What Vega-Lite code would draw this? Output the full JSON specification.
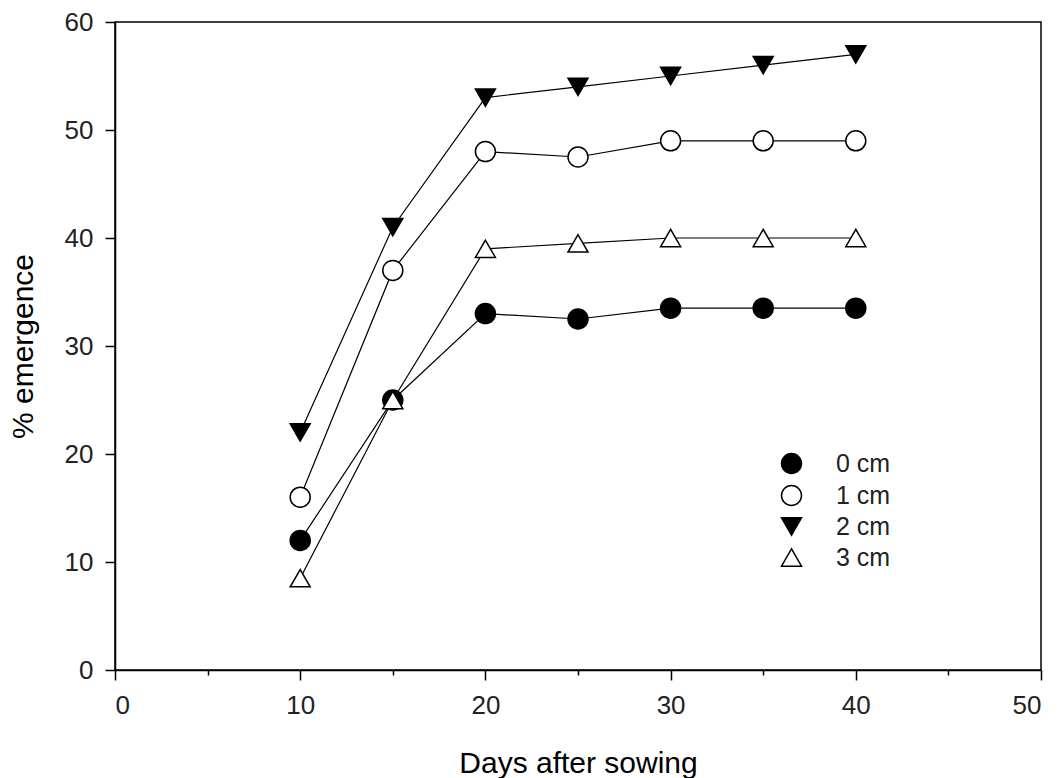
{
  "$schema": "https://vega.github.io/schema/vega-lite/v6.json",
  "width": 926,
  "height": 648,
  "autosize": {"type": "none"},
  "padding": {"left": 115, "top": 22, "right": 18, "bottom": 108},
  "background": "white",
  "config": {
    "view": {"stroke": "black", "strokeWidth": 1.5},
    "font": "Liberation Sans",
    "axis": {
      "grid": false,
      "domainColor": "black",
      "domainWidth": 1.5,
      "tickColor": "black",
      "tickWidth": 1.5,
      "tickSize": 10,
      "labelFont": "Liberation Sans",
      "labelFontSize": 26,
      "labelColor": "#222",
      "titleFont": "Liberation Sans",
      "titleFontSize": 30,
      "titleFontWeight": "normal",
      "titleColor": "black"
    },
    "legend": {
      "labelFont": "Liberation Sans",
      "labelFontSize": 25,
      "labelColor": "#222"
    }
  },
  "data": {
    "values": [
      {"day": 10, "depth": "0 cm", "pct": 12},
      {"day": 15, "depth": "0 cm", "pct": 25},
      {"day": 20, "depth": "0 cm", "pct": 33},
      {"day": 25, "depth": "0 cm", "pct": 32.5},
      {"day": 30, "depth": "0 cm", "pct": 33.5},
      {"day": 35, "depth": "0 cm", "pct": 33.5},
      {"day": 40, "depth": "0 cm", "pct": 33.5},
      {"day": 10, "depth": "1 cm", "pct": 16},
      {"day": 15, "depth": "1 cm", "pct": 37},
      {"day": 20, "depth": "1 cm", "pct": 48},
      {"day": 25, "depth": "1 cm", "pct": 47.5},
      {"day": 30, "depth": "1 cm", "pct": 49},
      {"day": 35, "depth": "1 cm", "pct": 49},
      {"day": 40, "depth": "1 cm", "pct": 49},
      {"day": 10, "depth": "2 cm", "pct": 22},
      {"day": 15, "depth": "2 cm", "pct": 41},
      {"day": 20, "depth": "2 cm", "pct": 53},
      {"day": 25, "depth": "2 cm", "pct": 54},
      {"day": 30, "depth": "2 cm", "pct": 55},
      {"day": 35, "depth": "2 cm", "pct": 56},
      {"day": 40, "depth": "2 cm", "pct": 57},
      {"day": 10, "depth": "3 cm", "pct": 8.5},
      {"day": 15, "depth": "3 cm", "pct": 25},
      {"day": 20, "depth": "3 cm", "pct": 39},
      {"day": 25, "depth": "3 cm", "pct": 39.5},
      {"day": 30, "depth": "3 cm", "pct": 40},
      {"day": 35, "depth": "3 cm", "pct": 40},
      {"day": 40, "depth": "3 cm", "pct": 40}
    ]
  },
  "layer": [
    {
      "mark": {"type": "line", "color": "black", "strokeWidth": 1.2},
      "encoding": {
        "x": {
          "field": "day", "type": "quantitative",
          "scale": {"domain": [0, 50], "nice": false},
          "axis": {"orient": "bottom", "values": [5, 15, 25, 35, 45], "labels": false, "domain": false, "tickSize": 5, "title": null}
        },
        "y": {
          "field": "pct", "type": "quantitative",
          "scale": {"domain": [0, 60], "nice": false},
          "axis": {"values": [0, 10, 20, 30, 40, 50, 60], "labelPadding": 12, "title": "% emergence", "titlePadding": 26}
        },
        "detail": {"field": "depth"}
      }
    },
    {
      "mark": {"type": "point", "strokeWidth": 1.5, "size": 400, "opacity": 1},
      "encoding": {
        "x": {
          "field": "day", "type": "quantitative",
          "axis": {"orient": "bottom", "values": [0, 10, 20, 30, 40, 50], "labelPadding": 12, "title": "Days after sowing", "titlePadding": 30}
        },
        "y": {"field": "pct", "type": "quantitative"},
        "shape": {
          "field": "depth", "type": "nominal",
          "scale": {"domain": ["0 cm", "1 cm", "2 cm", "3 cm"], "range": ["circle", "circle", "triangle-down", "triangle-up"]},
          "legend": {"title": null, "orient": "none", "legendX": 664, "legendY": 429, "symbolSize": 400, "symbolStrokeWidth": 1.5, "labelOffset": 32, "rowPadding": 5, "padding": 0}
        },
        "fill": {
          "field": "depth", "type": "nominal",
          "scale": {"domain": ["0 cm", "1 cm", "2 cm", "3 cm"], "range": ["black", "white", "black", "white"]},
          "legend": {"title": null, "orient": "none", "legendX": 664, "legendY": 429, "symbolSize": 400, "symbolStrokeWidth": 1.5, "labelOffset": 32, "rowPadding": 5, "padding": 0}
        },
        "stroke": {
          "field": "depth", "type": "nominal",
          "scale": {"domain": ["0 cm", "1 cm", "2 cm", "3 cm"], "range": ["black", "black", "black", "black"]},
          "legend": {"title": null, "orient": "none", "legendX": 664, "legendY": 429, "symbolSize": 400, "symbolStrokeWidth": 1.5, "labelOffset": 32, "rowPadding": 5, "padding": 0}
        }
      }
    }
  ],
  "resolve": {"axis": {"x": "independent"}}
}
